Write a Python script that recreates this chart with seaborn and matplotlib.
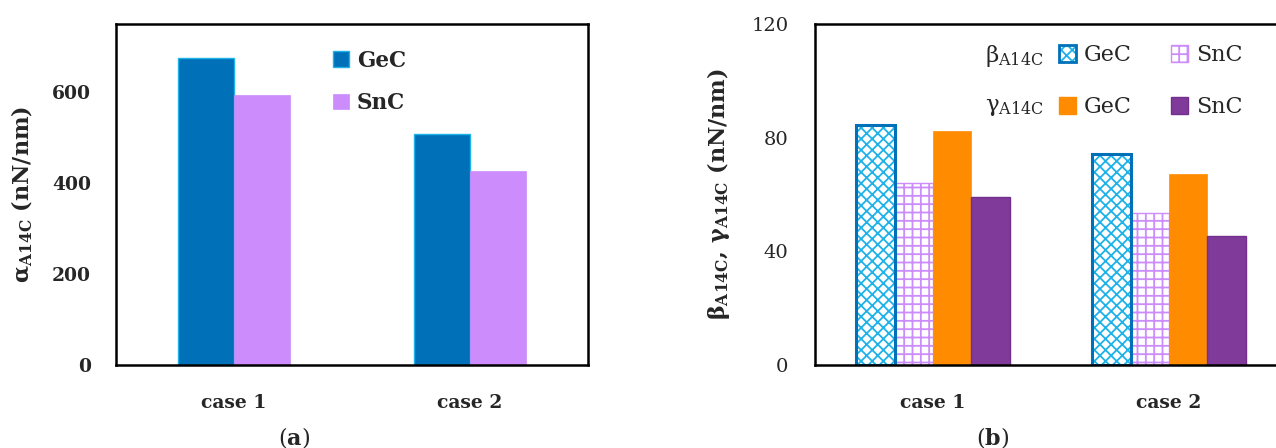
import matplotlib
matplotlib.use("Agg")
import matplotlib.pyplot as plt
import seaborn as sns
import pandas as pd
from matplotlib.patches import Patch, Rectangle
from matplotlib.legend_handler import HandlerTuple

# ---------------- data ----------------
cases = ["case 1", "case 2"]
alpha_gec = [675, 509]
alpha_snc = [594, 427]
beta_gec = [84.3, 74.1]
beta_snc = [63.9, 53.4]
gamma_gec = [82.2, 67.2]
gamma_snc = [59.2, 45.4]
left_ticks = [0, 200, 400, 600]
right_ticks = [0, 40, 80, 120]

sns.set_style("white")
plt.rcParams["font.family"] = ["DejaVu Serif"]
plt.rcParams["mathtext.fontset"] = "dejavuserif"
plt.rcParams["hatch.linewidth"] = 1.3

C_BLUE = "#0070B8"
C_CYAN = "#1FB2E8"
C_LILAC = "#CC8CFC"
C_ORANGE = "#FF8C00"
C_PURPLE = "#7F3A9A"

W, H = 1276, 448
fig = plt.figure(figsize=(W / 100, H / 100), dpi=100)

def px_axes(x0, x1, ytop, ybot):
    return fig.add_axes([x0 / W, 1 - ybot / H, (x1 - x0) / W, (ybot - ytop) / H])

axL = px_axes(116, 588, 24, 365)
axR = px_axes(815, 1287, 24, 365)

# ---------------- left panel ----------------
dfL = pd.DataFrame({
    "case": cases * 2,
    "value": alpha_gec + alpha_snc,
    "series": ["GeC"] * 2 + ["SnC"] * 2,
})
sns.barplot(data=dfL, x="case", y="value", hue="series", palette=[C_BLUE, C_LILAC],
            width=0.475, saturation=1, ax=axL, legend=False)
for p in axL.containers[0]:
    p.set_edgecolor(C_CYAN); p.set_linewidth(1.0)
for p in axL.containers[1]:
    p.set_edgecolor(C_LILAC); p.set_linewidth(0.5)
axL.set_xlim(-0.5, 1.5)
axL.set_ylim(0, 750)
axL.set_yticks(left_ticks)
axL.set_xlabel("")
axL.set_ylabel("α$_{\\mathbf{A14C}}$ (nN/nm)", fontsize=16, fontweight="bold", labelpad=12)
axL.tick_params(axis="y", direction="in", length=7, width=1.5, pad=18, labelsize=13.5)
axL.tick_params(axis="x", length=0, pad=21, labelsize=13.5)
for lab in axL.get_yticklabels() + axL.get_xticklabels():
    lab.set_fontweight("bold")
for s in axL.spines.values():
    s.set_visible(True); s.set_color("black"); s.set_linewidth(1.8)

hL = [Patch(facecolor=C_BLUE, edgecolor=C_CYAN, linewidth=1.0),
      Patch(facecolor=C_LILAC, edgecolor=C_LILAC, linewidth=0.5)]
legL = axL.legend(hL, ["GeC", "SnC"], loc="upper left", bbox_to_anchor=(0.46, 0.925),
                  frameon=False, borderpad=0, borderaxespad=0, handlelength=0.75,
                  handleheight=0.75, handletextpad=0.35, labelspacing=0.95,
                  prop={"size": 15.5, "weight": "bold"})

# ---------------- right panel ----------------
series_R = ["βGeC", "βSnC", "γGeC", "γSnC"]
dfR = pd.DataFrame({
    "case": cases * 4,
    "value": beta_gec + beta_snc + gamma_gec + gamma_snc,
    "series": [s for s in series_R for _ in cases],
})
sns.barplot(data=dfR, x="case", y="value", hue="series", hue_order=series_R,
            palette=["white", "white", C_ORANGE, C_PURPLE], width=0.65, saturation=1,
            ax=axR, legend=False)
# beta GeC: cyan cross-hatch with dark blue outline
for p in axR.containers[0]:
    p.set_hatch("xxx"); p.set_edgecolor(C_CYAN); p.set_linewidth(0)
    axR.add_patch(Rectangle(p.get_xy(), p.get_width(), p.get_height(), fill=False,
                            edgecolor=C_BLUE, linewidth=2.2, zorder=p.get_zorder() + 0.1))
for p in axR.containers[1]:
    p.set_hatch("++"); p.set_edgecolor(C_LILAC); p.set_linewidth(1.0)
for p in axR.containers[2]:
    p.set_edgecolor(C_ORANGE); p.set_linewidth(0.5)
for p in axR.containers[3]:
    p.set_edgecolor("#74308F"); p.set_linewidth(1.0)

axR.set_xlim(-0.5, 1.5)
axR.set_ylim(0, 120)
axR.set_yticks(right_ticks)
axR.set_xlabel("")
axR.set_ylabel("β$_{\\mathbf{A14C}}$, γ$_{\\mathbf{A14C}}$ (nN/nm)", fontsize=16,
               fontweight="bold", labelpad=14)
axR.tick_params(axis="y", direction="in", length=7, width=1.5, pad=19, labelsize=14)
axR.tick_params(axis="x", length=0, pad=21, labelsize=13.5)
for lab in axR.get_xticklabels():
    lab.set_fontweight("bold")
for s in axR.spines.values():
    s.set_visible(True); s.set_color("black"); s.set_linewidth(1.8)

h_bg = (Patch(facecolor="white", edgecolor=C_CYAN, hatch="xxx", linewidth=0),
        Patch(facecolor="none", edgecolor=C_BLUE, linewidth=2.0))
h_bs = Patch(facecolor="white", edgecolor=C_LILAC, hatch="++", linewidth=1.0)
h_gg = Patch(facecolor=C_ORANGE, edgecolor=C_ORANGE)
h_gs = Patch(facecolor=C_PURPLE, edgecolor="#74308F")
legR = axR.legend([h_bg, h_gg, h_bs, h_gs], ["GeC", "GeC", "SnC", "SnC"], ncol=2,
                  loc="upper left", bbox_to_anchor=(0.517, 0.941), frameon=False,
                  borderpad=0, borderaxespad=0, handlelength=0.75, handleheight=0.75,
                  handletextpad=0.38, labelspacing=1.35, columnspacing=1.75,
                  handler_map={tuple: HandlerTuple(ndivide=1, pad=0)},
                  prop={"size": 16})
axR.text(0.485, 0.906, "β$_{\\mathrm{A14C}}$", transform=axR.transAxes, ha="right",
         va="center", fontsize=16.5)
axR.text(0.485, 0.758, "γ$_{\\mathrm{A14C}}$", transform=axR.transAxes, ha="right",
         va="center", fontsize=16.5)

# panel labels
fig.text(294 / W, 1 - 437 / H, "($\\mathbf{a}$)", ha="center", va="center", fontsize=16)
fig.text(993 / W, 1 - 437 / H, "($\\mathbf{b}$)", ha="center", va="center", fontsize=16)

fig.savefig("out.png", dpi=100)
